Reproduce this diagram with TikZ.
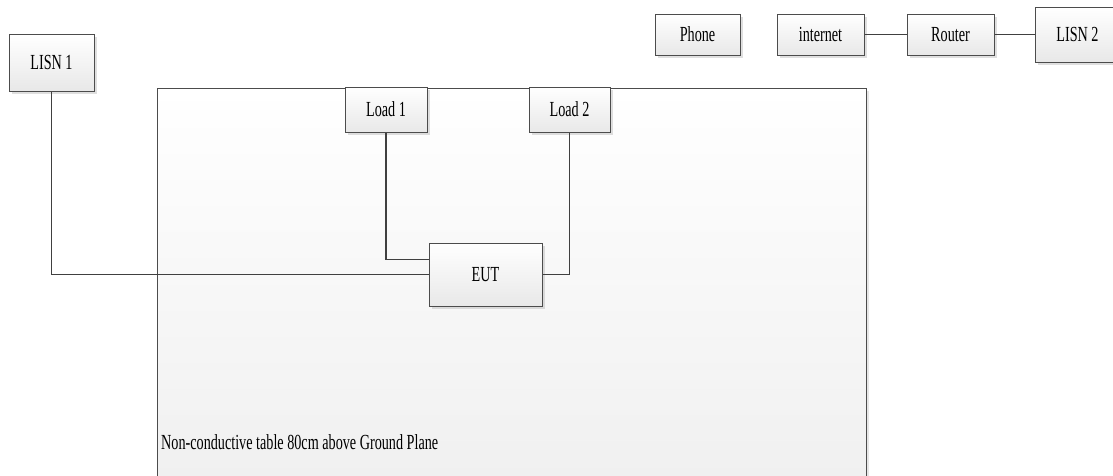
\documentclass[tikz,border=0pt]{standalone}
\usepackage{fontspec}
\setmainfont{Liberation Serif}[FakeStretch=0.66]
\usetikzlibrary{shadows}

\tikzset{
  unit/.style={draw=black!70, line width=1pt, rectangle, top color=white, bottom color=black!9,
    drop shadow={opacity=0.25, shadow xshift=2.5pt, shadow yshift=-2.5pt},
    font=\fontsize{21.5}{24}\selectfont, inner sep=0pt},
  wire/.style={draw=black!75, line width=1.3pt}
}

\begin{document}
\begin{tikzpicture}[x=1pt, y=-1pt]
  \useasboundingbox (0,0) rectangle (1113,475);
  \clip (0,0) rectangle (1113,475);

  % Table
  \node[draw=black!70, line width=1pt, rectangle, top color=white, bottom color=black!6,
    drop shadow={opacity=0.2, shadow xshift=3pt, shadow yshift=-3pt},
    minimum width=709pt, minimum height=400pt, inner sep=0pt] (Table) at (511.5,288) {};
  \node[anchor=west, inner sep=0pt, font=\fontsize{21.5}{24}\selectfont] (TableLabel) at (161,442) {Non-conductive table 80cm above Ground Plane};

  % Nodes
  \node[unit, minimum width=85pt, minimum height=57pt] (LISN1) at (51.5,62.5) {LISN 1};
  \node[unit, minimum width=82pt, minimum height=45pt] (Load1) at (386,109.5) {Load 1};
  \node[unit, minimum width=81pt, minimum height=45pt] (Load2) at (569.5,109.5) {Load 2};
  \node[unit, minimum width=113pt, minimum height=63pt] (EUT) at (485.5,274.5) {EUT};

  \node[unit, minimum width=85pt, minimum height=41pt] (Phone) at (697.5,34.5) {Phone};
  \node[unit, minimum width=87pt, minimum height=41pt] (Internet) at (820.5,34.5) {internet};
  \node[unit, minimum width=87pt, minimum height=41pt] (Router) at (950.5,34.5) {Router};
  \node[unit, minimum width=85pt, minimum height=55pt] (LISN2) at (1077.5,34.5) {LISN 2};

  % Edges
  \draw[wire] (LISN1.south) |- (EUT.west);
  \draw[wire] (Load1.south) |- ([yshift=15pt]EUT.west);
  \draw[wire] (Load2.south) |- (EUT.east);
  \draw[wire] (Internet) -- (Router);
  \draw[wire] (Router) -- (LISN2);
\end{tikzpicture}
\end{document}
